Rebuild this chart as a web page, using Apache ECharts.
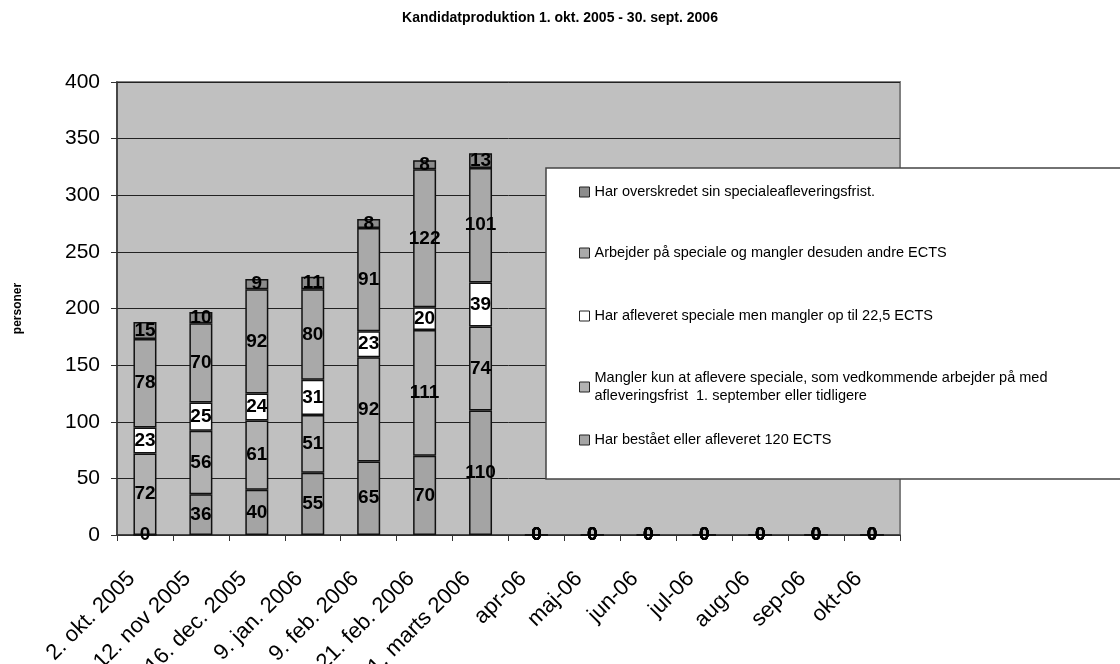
<!DOCTYPE html>
<html>
<head>
<meta charset="utf-8">
<script src="https://cdn.jsdelivr.net/npm/echarts@6/dist/echarts.min.js"></script>
<style>
html,body{margin:0;padding:0;background:#fff;}
#chart{width:1120px;height:664px;}
</style>
</head>
<body>
<div id="chart"></div>
<script>
var categories = ['2. okt. 2005','12. nov 2005','16. dec. 2005','9. jan. 2006','9. feb. 2006','21. feb. 2006','31. marts 2006','apr-06','maj-06','jun-06','jul-06','aug-06','sep-06','okt-06'];
var bestaaet    = [0, 36, 40, 55, 65, 70, 110, 0, 0, 0, 0, 0, 0, 0];
var manglerKun  = [72, 56, 61, 51, 92, 111, 74, 0, 0, 0, 0, 0, 0, 0];
var afleveret   = [23, 25, 24, 31, 23, 20, 39, 0, 0, 0, 0, 0, 0, 0];
var arbejder    = [78, 70, 92, 80, 91, 122, 101, 0, 0, 0, 0, 0, 0, 0];
var overskredet = [15, 10, 9, 11, 8, 8, 13, 0, 0, 0, 0, 0, 0, 0];
var yTicks = [0, 50, 100, 150, 200, 250, 300, 350, 400];

var names = {
  overskredet: 'Har overskredet sin specialeafleveringsfrist.',
  arbejder: 'Arbejder på speciale og mangler desuden andre ECTS',
  afleveret: 'Har afleveret speciale men mangler op til 22,5 ECTS',
  manglerKun: 'Mangler kun at aflevere speciale, som vedkommende arbejder på med',
  bestaaet: 'Har bestået eller afleveret 120 ECTS'
};

var FONT = 'Liberation Sans, Arial, sans-serif';

function mkSeries(name, data, color) {
  return {
    name: name,
    type: 'bar',
    stack: 'total',
    data: data,
    barWidth: 23,
    itemStyle: { color: color, borderColor: '#111', borderWidth: 1.5 },
    label: {
      show: true, position: 'inside', color: '#000',
      fontFamily: FONT, fontWeight: 'bold', fontSize: 19
    },
    emphasis: { disabled: true }
  };
}

function mkLegend(name, top) {
  return {
    data: [name],
    left: 579,
    top: top,
    padding: 0,
    itemWidth: 10,
    itemHeight: 10,
    icon: 'rect',
    selectedMode: false,
    itemStyle: { borderColor: '#222', borderWidth: 1 },
    formatter: function (n) {
      if (n === names.manglerKun) return n + '\nafleveringsfrist  1. september eller tidligere';
      return n;
    },
    textStyle: { fontFamily: FONT, fontSize: 14.5, color: '#000', lineHeight: 18 }
  };
}

var chart = echarts.init(document.getElementById('chart'));
chart.setOption({
  animation: false,
  backgroundColor: '#fff',
  title: {
    text: 'Kandidatproduktion 1. okt. 2005 - 30. sept. 2006',
    left: 'center',
    top: 6,
    textStyle: { fontFamily: FONT, fontWeight: 'bold', fontSize: 14, color: '#000' }
  },
  graphic: [{
    type: 'rect',
    z: 3,
    shape: { x: 546, y: 168, width: 620, height: 311 },
    style: { fill: '#fff', stroke: '#444', lineWidth: 1.5 }
  }],
  legend: [
    mkLegend(names.overskredet, 183),
    mkLegend(names.arbejder, 244),
    mkLegend(names.afleveret, 307),
    mkLegend(names.manglerKun, 369),
    mkLegend(names.bestaaet, 431)
  ],
  grid: {
    left: 117, right: 220, top: 82, bottom: 129,
    containLabel: false,
    outerBoundsMode: 'none',
    show: true, backgroundColor: '#c0c0c0', borderColor: '#808080', borderWidth: 2
  },
  xAxis: {
    type: 'category',
    data: categories,
    boundaryGap: true,
    axisLine: { lineStyle: { color: '#333', width: 1.5 } },
    axisTick: { show: true, interval: 0, length: 6, lineStyle: { color: '#333' } },
    axisLabel: {
      interval: 0, rotate: 45, margin: 27, padding: [0, 19, 0, 0],
      fontFamily: FONT, fontSize: 22, color: '#000'
    }
  },
  yAxis: {
    type: 'value',
    min: yTicks[0], max: yTicks[yTicks.length - 1], interval: 50,
    name: 'personer',
    nameLocation: 'middle',
    nameGap: 93,
    nameRotate: 90,
    nameTextStyle: { fontFamily: FONT, fontWeight: 'bold', fontSize: 12, color: '#000' },
    axisLine: { show: true, lineStyle: { color: '#333', width: 1.5 } },
    axisTick: { show: true, length: 6, lineStyle: { color: '#333' } },
    axisLabel: { margin: 17, fontFamily: FONT, fontSize: 21, color: '#000' },
    splitLine: { show: true, lineStyle: { color: '#222', width: 1 } }
  },
  series: [
    mkSeries(names.bestaaet, bestaaet, '#a4a4a4'),
    mkSeries(names.manglerKun, manglerKun, '#b2b2b2'),
    mkSeries(names.afleveret, afleveret, '#ffffff'),
    mkSeries(names.arbejder, arbejder, '#a9a9a9'),
    mkSeries(names.overskredet, overskredet, '#8c8c8c')
  ]
});
</script>
</body>
</html>
